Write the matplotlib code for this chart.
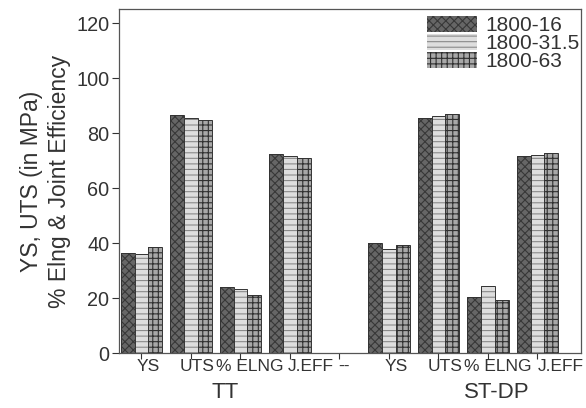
import matplotlib
matplotlib.use("Agg")
import matplotlib.pyplot as plt
import matplotlib.transforms as mtransforms
import numpy as np

plt.rcParams['font.family'] = ['Liberation Sans', 'DejaVu Sans']
plt.rcParams['hatch.linewidth'] = 0.8

# Categories along the x axis (blank slot separates the two conditions)
categories = ["YS", "UTS", "% ELNG", "J.EFF", "--", "YS", "UTS", "% ELNG", "J.EFF"]
series_names = ["1800-16", "1800-31.5", "1800-63"]

# Values per series (None for the separator slot)
s_1800_16 = [36.3, 86.7, 23.9, 72.4, None, 40.1, 85.6, 20.2, 71.5]
s_1800_31 = [36.0, 85.5, 23.2, 71.6, None, 37.8, 86.2, 24.2, 72.1]
s_1800_63 = [38.7, 84.9, 21.2, 70.8, None, 39.3, 86.8, 19.3, 72.6]

group_labels = ["TT", "ST-DP"]

styles = [
    dict(face="#666666", hatch="xxxx", hcol="#383838"),
    dict(face="#dedede", hatch="---", hcol="#8a8a8a"),
    dict(face="#a8a8a8", hatch="+++", hcol="#303030"),
]

fig = plt.figure(figsize=(5.86, 4.08), dpi=100)
ax = fig.add_axes([0.203, 0.1348, 0.7885, 0.842])

x = np.arange(len(categories))
w = 0.277
all_series = [s_1800_16, s_1800_31, s_1800_63]
for j, (vals, name, st) in enumerate(zip(all_series, series_names, styles)):
    xs = [xi + (j - 1) * w for xi, v in zip(x, vals) if v is not None]
    vs = [v for v in vals if v is not None]
    ax.bar(xs, vs, width=w, color=st["face"], edgecolor=st["hcol"],
           hatch=st["hatch"], linewidth=0, label=name)
    ax.bar(xs, vs, width=w, fill=False, edgecolor="#333333", linewidth=0.7)

ax.set_xlim(-0.455, 8.88)
ax.set_ylim(0, 125)
ax.set_yticks([0, 20, 40, 60, 80, 100, 120])
ax.set_xticks(x)
ax.set_xticklabels([])

# category labels, left-aligned with small offsets from their ticks (pixels)
label_dx = [-4.5, -11, -24.5, -2, -1, -4.5, -11, -24, 0]
xlab_trans = mtransforms.blended_transform_factory(ax.transData, ax.transAxes)
for xi, lab, dx in zip(x, categories, label_dx):
    off = mtransforms.ScaledTranslation(dx / 100, 0, fig.dpi_scale_trans)
    ax.text(xi, -0.018, lab, transform=xlab_trans + off, ha="left", va="top",
            fontsize=12.5, color="#333333")

ax.tick_params(axis="y", labelsize=14.3, colors="#333333", length=5, width=0.8, pad=2)
ax.tick_params(axis="x", colors="#333333", length=4, width=0.8)
for sp in ax.spines.values():
    sp.set_color("#555555")
    sp.set_linewidth(0.9)

ax.set_ylabel("YS, UTS (in MPa)\n% Elng & Joint Efficiency", fontsize=16.5,
              color="#333333", linespacing=1.25, labelpad=4)

trans = mtransforms.blended_transform_factory(ax.transData, fig.transFigure)
ax.text(1.69, 1 - 393 / 408, group_labels[0], transform=trans, ha="center",
        va="center", fontsize=16, color="#333333")
ax.text(7.18, 1 - 393 / 408, group_labels[1], transform=trans, ha="center",
        va="center", fontsize=16, color="#333333")

leg = ax.legend(loc="upper right", frameon=False, fontsize=15,
                handlelength=2.4, handleheight=0.75, labelspacing=-0.05,
                handletextpad=0.4, borderaxespad=0.0, borderpad=0.2,
                bbox_to_anchor=(1.005, 0.992))
for t in leg.get_texts():
    t.set_color("#333333")

fig.savefig("out.png", dpi=100)
